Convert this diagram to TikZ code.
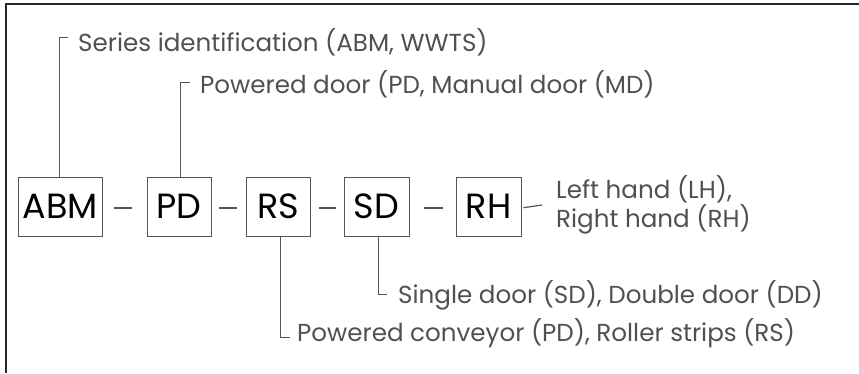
\documentclass[tikz,border=0pt]{standalone}
\usepackage{fontspec}
\setmainfont{Poppins}
\definecolor{txt}{HTML}{505050}
\definecolor{ln}{HTML}{555555}
\begin{document}
\begin{tikzpicture}[x=1pt,y=-1pt,
  codebox/.style={draw=ln,line width=1pt,minimum height=59pt,inner sep=0pt,font=\fontsize{35}{35}\selectfont,text=black},
  desc/.style={anchor=west,inner sep=0pt,text=txt,font=\fontsize{24.6}{29}\selectfont},
  lead/.style={draw=ln,line width=1pt},
  sep/.style={draw=ln,line width=1.2pt}]
\useasboundingbox (0,0) rectangle (859,373);
\draw[line width=2pt,black!85] (6,373) -- (6,3.5) -- (859,3.5);
\node[codebox,minimum width=84pt] (abm) at (60,206.5) {ABM};
\node[codebox,minimum width=64pt] (pd) at (179,206.5) {PD};
\node[codebox,minimum width=64pt] (rs) at (278,206.5) {RS};
\node[codebox,minimum width=65pt] (sd) at (376.5,206.5) {SD};
\node[codebox,minimum width=65pt] (rh) at (488.5,206.5) {RH};
\node[desc] (t1) at (78,42) {Series identification (ABM, WWTS)};
\node[desc] (t2) at (200,84) {Powered door (PD, Manual door (MD)};
\node[desc] (t3) at (398,295.5) {Single door (SD), Double door (DD)};
\node[desc] (t4) at (297,333.5) {Powered conveyor (PD), Roller strips (RS)};
\node[desc,align=left] (t5) at (556,205) {Left hand (LH),\\Right hand (RH)};
\coordinate (c1) at (68,37);
\coordinate (c2) at (190,82);
\coordinate (c3) at (387,294);
\coordinate (c4) at (290,337);
\coordinate (c5) at (542,205);
\draw[lead] (abm.north -| 59,0) |- (c1);
\draw[lead] (pd.north -| 180,0) |- (c2);
\draw[lead] (sd.south -| 378,0) |- (c3);
\draw[lead] (rs.south -| 280,0) |- (c4);
\draw[sep,shorten <=11pt,shorten >=15pt] ([yshift=-1.5pt]abm.east) -- ([yshift=-1.5pt]pd.west);
\draw[sep,shorten <=7pt,shorten >=9pt] ([yshift=-1.5pt]pd.east) -- ([yshift=-1.5pt]rs.west);
\draw[sep,shorten <=8pt,shorten >=8pt] ([yshift=-1.5pt]rs.east) -- ([yshift=-1.5pt]sd.west);
\draw[sep,shorten <=14pt,shorten >=13pt] ([yshift=-1.5pt]sd.east) -- ([yshift=-1.5pt]rh.west);
\draw[sep,shorten <=2pt] ([yshift=-1.5pt]rh.east) -- (c5);
\end{tikzpicture}
\end{document}
